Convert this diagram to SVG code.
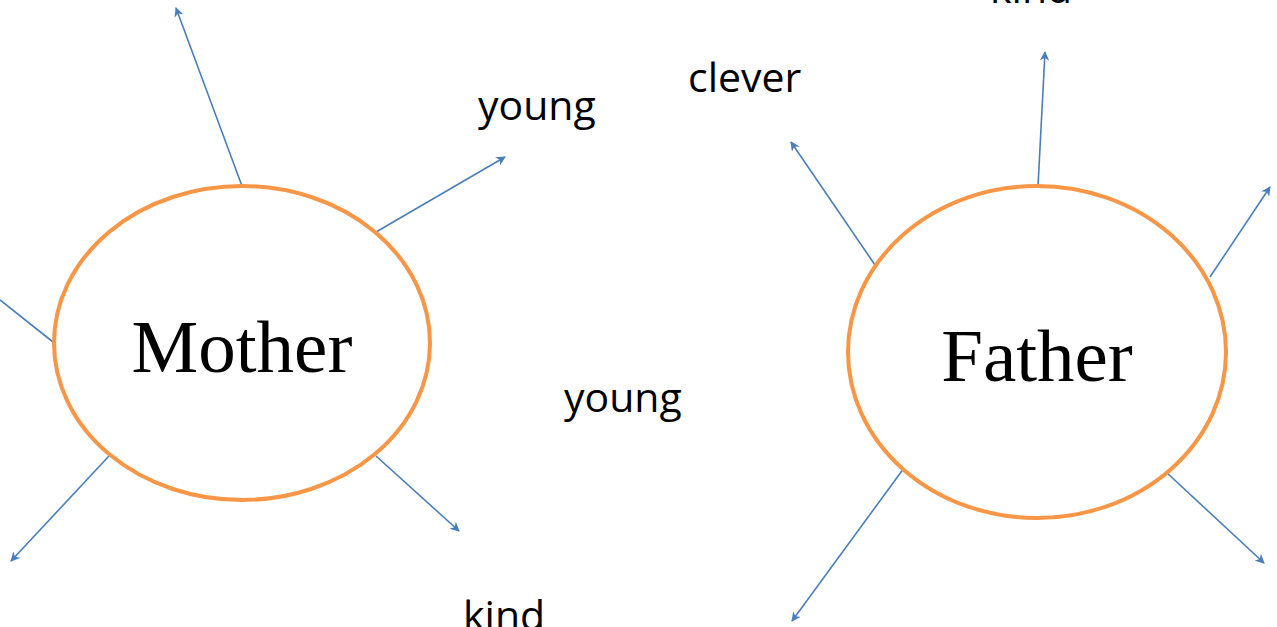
<svg xmlns="http://www.w3.org/2000/svg" width="1277" height="627" viewBox="0 0 1277 627">
<style>
.c{stroke:#4A7EBB;stroke-width:1.6;fill:none;marker-end:url(#ah)}
.n{fill:none;stroke:#F79646;stroke-width:4}
.t{font-family:"Open Sans",sans-serif;font-size:41px;fill:#000}
.s{font-family:"Liberation Serif",serif;font-size:75px;fill:#000}
</style>
<defs>
<marker id="ah" viewBox="0 0 10 10" refX="9" refY="5" markerWidth="6" markerHeight="6" orient="auto" markerUnits="strokeWidth">
<path d="M0,0 L10,5 L0,10 L3,5 Z" fill="#4A7EBB"/>
</marker>
</defs>
<rect width="1277" height="627" fill="#fff"/>
<g id="connectors">
<line class="c" x1="242" y1="186" x2="176" y2="8"/>
<line class="c" x1="376" y1="232" x2="505" y2="157"/>
<line x1="53" y1="342" x2="0" y2="300" stroke="#4A7EBB" stroke-width="1.6"/>
<line class="c" x1="109" y1="456" x2="11" y2="561"/>
<line class="c" x1="376" y1="456" x2="459" y2="531"/>
<line class="c" x1="875" y1="265" x2="791" y2="142"/>
<line class="c" x1="1038" y1="186" x2="1045" y2="52"/>
<line class="c" x1="1210" y1="277" x2="1270" y2="187"/>
<line class="c" x1="904" y1="468" x2="792" y2="621"/>
<line class="c" x1="1166" y1="472" x2="1264" y2="563"/>
</g>
<g id="mother">
<ellipse class="n" cx="242" cy="343" rx="188" ry="157"/>
<text class="s" x="242" y="372" text-anchor="middle">Mother</text>
</g>
<g id="father">
<ellipse class="n" cx="1037" cy="352" rx="189" ry="166"/>
<text class="s" x="1037" y="381" text-anchor="middle">Father</text>
</g>
<g id="labels">
<text class="t" x="478" y="120">young</text>
<text class="t" x="688" y="92">clever</text>
<text class="t" x="990" y="3">kind</text>
<text class="t" x="564" y="412">young</text>
<text class="t" x="463" y="630">kind</text>
</g>
</svg>
